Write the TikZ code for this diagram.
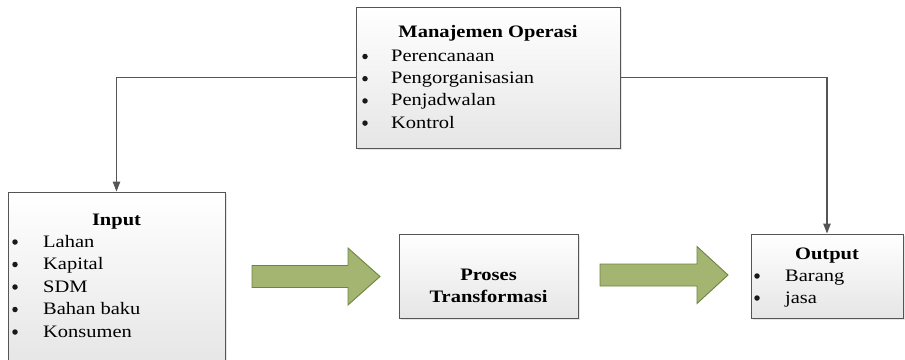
\documentclass[tikz,border=0pt]{standalone}
\usepackage{fontspec}
\setmainfont{Liberation Serif}[FakeStretch=1.17]
\usetikzlibrary{arrows.meta,shadows}

\definecolor{boxline}{RGB}{85,85,85}
\definecolor{arrowfill}{RGB}{163,181,112}
\definecolor{arrowline}{RGB}{112,130,68}

\tikzset{
    panel/.style={draw=boxline, line width=1pt, top color=white, bottom color=black!10,
        drop shadow={opacity=0.2, shadow xshift=1.5pt, shadow yshift=-1.5pt}, inner sep=0pt},
    title/.style={anchor=base, font=\bfseries},
    item/.style={anchor=base west, inner sep=0pt},
    dot/.style={circle, fill=black!90, inner sep=0pt, minimum size=5.5pt},
    link/.style={draw=boxline, line width=1.1pt, -{Triangle[width=7.5pt,length=10pt]}},
    bigarrow/.style={fill=arrowfill, draw=arrowline, line width=0.9pt}
}

\begin{document}
\fontsize{17.5}{22}\selectfont
\begin{tikzpicture}[x=1pt, y=-1pt]
            \useasboundingbox (0,0) rectangle (905,359);

            % Manajemen operasi on top
            \node [panel, minimum width=264pt, minimum height=141pt] (mo) at (488,77.5) {};
            \node [title] (mo-t) at (488,37) {Manajemen Operasi};
            \foreach \t [count=\i] in {Perencanaan, Pengorganisasian, Penjadwalan, Kontrol}
            {
                \node [dot] (mo-d\i) at (365,{56.5+22.2*(\i-1)}) {};
                \node [item] (mo-\i) at (391,{61.5+22.2*(\i-1)}) {\t};
            }

            % Input
            \node [panel, minimum width=217pt, minimum height=174pt] (in) at (116.5,279) {};
            \node [title] (in-t) at (116.5,225) {Input};
            \foreach \t [count=\i] in {Lahan, Kapital, SDM, Bahan baku, Konsumen}
            {
                \node [dot] (in-d\i) at (15,{242+22.5*(\i-1)}) {};
                \node [item] (in-\i) at (43,{247+22.5*(\i-1)}) {\t};
            }

            % Proses transformasi
            \node [panel, minimum width=179pt, minimum height=84pt] (pt) at (488.5,276) {};
            \node [title] (pt-1) at (488.5,280) {Proses};
            \node [title] (pt-2) at (488.5,302) {Transformasi};

            % Output
            \node [panel, minimum width=152pt, minimum height=84pt] (out) at (827,276) {};
            \node [title] (out-t) at (827,259) {Output};
            \foreach \t [count=\i] in {Barang, jasa}
            {
                \node [dot] (out-d\i) at (757,{276+22*(\i-1)}) {};
                \node [item] (out-\i) at (785,{281+22*(\i-1)}) {\t};
            }

            % Big green arrows
            \foreach \a/\b/\c/\m in {252/348/380/276.5, 600/697/728/275}
            {
                \draw [bigarrow] (\a,\m-11) -- (\b,\m-11) -- (\b,\m-28.5) -- (\c,\m)
                    -- (\b,\m+28.5) -- (\b,\m+11) -- (\a,\m+11) -- cycle;
            }

            % Control lines
            \draw [link] (mo.west) -| (in.north);
            \draw [link] (mo.east) -| (out.north);
\end{tikzpicture}
\end{document}
